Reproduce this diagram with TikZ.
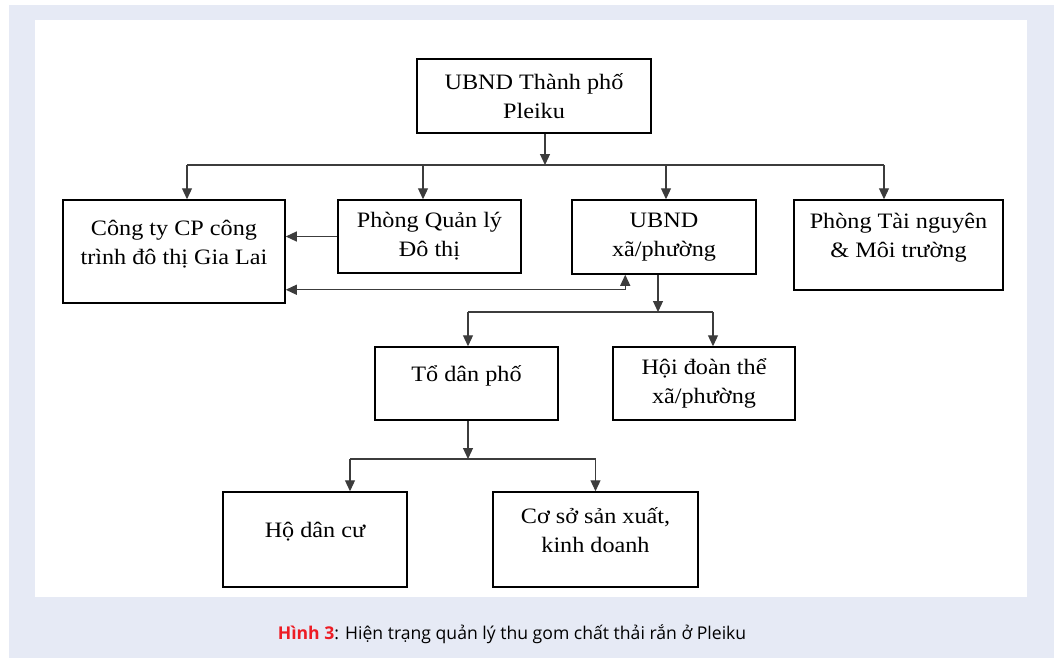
\documentclass[tikz,border=0pt]{standalone}
\usepackage{fontspec}
\setmainfont{Liberation Serif}[FakeStretch=1.1]
\newfontfamily\capfont{Open Sans}
\usepackage{tikz}
\usetikzlibrary{arrows.meta,calc}

\begin{document}
\begin{tikzpicture}[x=1pt, y=-1pt,
  box/.style={draw, line width=1.5pt, inner sep=0pt, align=center,
    font={\fontsize{22}{29}\selectfont}},
  low/.style={text depth=19pt},
  conn/.style={line width=1.2pt, draw=linegray},
  arr/.style={conn, -{Triangle[length=11pt,width=10pt]}},
  both/.style={conn, {Triangle[length=11pt,width=10pt]}-{Triangle[length=11pt,width=10pt]}}]
  % Colors
  \definecolor{pageblue}{RGB}{230,234,245}
  \definecolor{linegray}{RGB}{60,60,60}
  \definecolor{capred}{RGB}{237,28,36}

  % Page and panel
  \useasboundingbox (0,0) rectangle (1057,658);
  \fill[pageblue] (9,5) rectangle (1054,658);
  \fill[white] (35,20) rectangle (1027,597);

  % Boxes
  \node[box, minimum width=234, minimum height=74] (tp) at (534,96) {UBND Thành phố\\Pleiku};
  \node[box, low, minimum width=222, minimum height=103] (congty) at (174,251.5) {Công ty CP công\\trình đô thị Gia Lai};
  \node[box, minimum width=183, minimum height=73] (pql) at (429.5,236.5) {Phòng Quản lý\\Đô thị};
  \node[box, minimum width=184, minimum height=74] (uxa) at (664,237) {UBND\\xã/phường};
  \node[box, low, minimum width=209, minimum height=90] (tnmt) at (898.5,245) {Phòng Tài nguyên\\\& Môi trường};
  \node[box, low, minimum width=183, minimum height=73] (todan) at (466.5,383.5) {Tổ dân phố};
  \node[box, minimum width=182, minimum height=73] (hoi) at (704,383.5) {Hội đoàn thể\\xã/phường};
  \node[box, low, minimum width=184, minimum height=95] (hodan) at (315,539.5) {Hộ dân cư};
  \node[box, low, minimum width=205, minimum height=95] (coso) at (595.5,539.5) {Cơ sở sản xuất,\\kinh doanh};

  % Junctions
  \coordinate (j1) at (545,165);
  \coordinate (j2) at (658,312);
  \coordinate (j3) at (468,459);

  % First level
  \draw[arr] (tp.south -| j1) -- (j1);
  \draw[conn] ([xshift=13pt]congty.north |- j1) -- ([xshift=-14.5pt]tnmt.north |- j1);
  \foreach \n/\dx in {congty/13, pql/-6.5, uxa/2, tnmt/-14.5}
    \draw[arr] ([xshift=\dx pt]\n.north |- j1) -- ([xshift=\dx pt]\n.north);

  % Links to the company
  \draw[arr] (pql.west) -- (pql.west -| congty.east);
  \draw[both] ([yshift=14pt]congty.south east) -| ([xshift=54pt]uxa.south west);

  % Second level
  \draw[arr] (uxa.south -| j2) -- (j2);
  \draw[conn] ([xshift=1.5pt]todan.north |- j2) -- ([xshift=9pt]hoi.north |- j2);
  \draw[arr] ([xshift=1.5pt]todan.north |- j2) -- ([xshift=1.5pt]todan.north);
  \draw[arr] ([xshift=9pt]hoi.north |- j2) -- ([xshift=9pt]hoi.north);

  % Third level
  \draw[arr] (todan.south -| j3) -- (j3);
  \draw[conn] ([xshift=35pt]hodan.north |- j3) -- (coso.north |- j3);
  \draw[arr] ([xshift=35pt]hodan.north |- j3) -- ([xshift=35pt]hodan.north);
  \draw[arr] (coso.north |- j3) -- (coso.north);

  % Caption
  \node[font={\capfont\fontsize{17.6}{21}\selectfont}] (cap) at (512,634)
    {\textcolor{capred}{\bfseries Hình 3}: Hiện trạng quản lý thu gom chất thải rắn ở Pleiku};
\end{tikzpicture}
\end{document}
